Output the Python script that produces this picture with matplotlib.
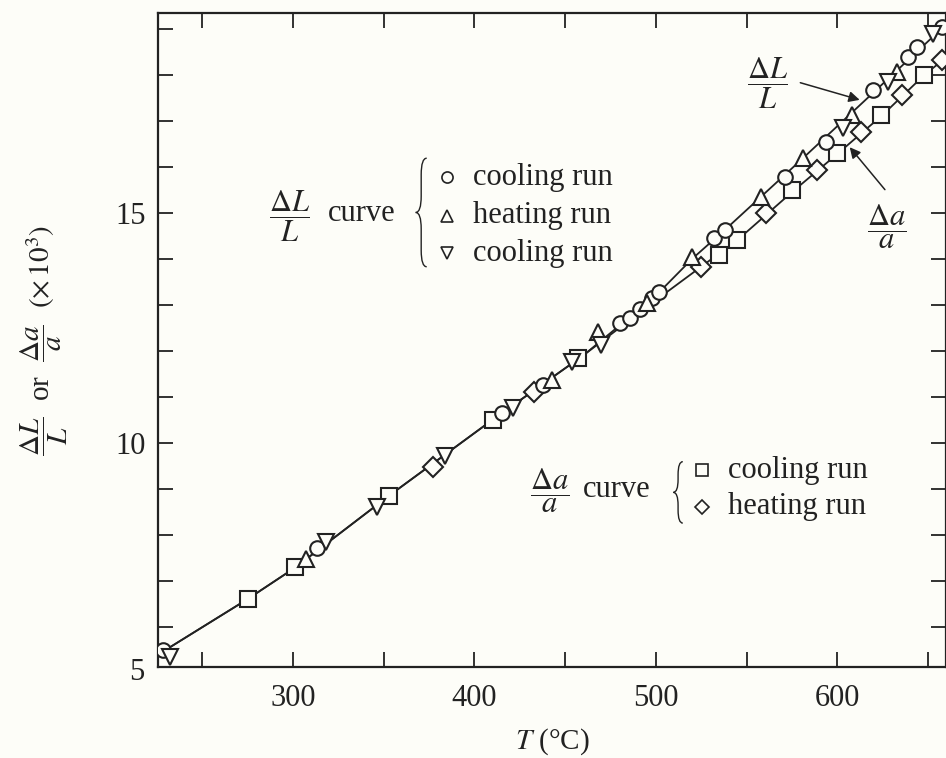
import matplotlib
matplotlib.use("Agg")
import matplotlib.pyplot as plt
from matplotlib.path import Path
from matplotlib.patches import PathPatch

plt.rcParams['font.family'] = ['Liberation Serif', 'DejaVu Serif']
plt.rcParams['mathtext.fontset'] = 'stix'

# dL/L curve, three runs (T in degC, value x 1e3)
dl_cool1_T = [228, 313, 415, 438, 480, 486, 491, 498, 502, 532, 538, 571, 594, 620, 639, 644, 658]
dl_cool1_v = [5.50, 7.70, 10.65, 11.26, 12.60, 12.72, 12.90, 13.15, 13.28, 14.46, 14.63, 15.78, 16.54, 17.67, 18.39, 18.60, 19.04]
dl_heat_T = [307, 443, 468, 495, 520, 558, 581, 608, 633]
dl_heat_v = [7.46, 11.37, 12.41, 13.04, 14.04, 15.35, 16.20, 17.13, 18.07]
dl_cool2_T = [232, 318, 346, 384, 421, 454, 470, 603, 628, 653]
dl_cool2_v = [5.33, 7.83, 8.61, 9.72, 10.76, 11.76, 12.13, 16.85, 17.85, 18.90]

# da/a curve, two runs
da_cool_T = [275, 301, 353, 410, 457, 535, 545, 575, 600, 624, 648]
da_cool_v = [6.61, 7.30, 8.85, 10.50, 11.85, 14.09, 14.41, 15.50, 16.30, 17.13, 18.00]
da_heat_T = [377, 433, 525, 561, 589, 613, 636, 658]
da_heat_v = [9.48, 11.10, 13.83, 15.00, 15.93, 16.76, 17.56, 18.33]

# smooth lines drawn through each curve
dl_line_T = [228, 275, 301, 353, 410, 460, 500, 520, 540, 580, 620, 660]
dl_line_v = [5.45, 6.60, 7.28, 8.85, 10.50, 11.90, 13.20, 14.00, 14.70, 16.15, 17.62, 19.10]
da_line_T = [228, 275, 301, 353, 410, 460, 500, 525, 545, 575, 600, 625, 648, 660]
da_line_v = [5.45, 6.60, 7.28, 8.85, 10.50, 11.90, 13.10, 13.83, 14.41, 15.45, 16.28, 17.13, 18.00, 18.38]

bg = '#fdfdf8'
ink = '#222222'


def brace(ax, x, y0, y1, w, d):
    # curly brace opening to the right, in axes coords
    ym = (y0 + y1) / 2
    xm = x + w / 2
    verts = [(x + w, y1), (xm, y1), (xm, y1 - d),
             (xm, ym + d), (xm, ym), (x, ym),
             (xm, ym), (xm, ym - d),
             (xm, y0 + d), (xm, y0), (x + w, y0)]
    codes = [Path.MOVETO, Path.CURVE3, Path.CURVE3,
             Path.LINETO, Path.CURVE3, Path.CURVE3,
             Path.CURVE3, Path.CURVE3,
             Path.LINETO, Path.CURVE3, Path.CURVE3]
    ax.add_patch(PathPatch(Path(verts, codes), fill=False, lw=1.0,
                           edgecolor=ink, transform=ax.transAxes, clip_on=False))


fig = plt.figure(figsize=(9.46, 7.58), dpi=100, facecolor=bg)
ax = fig.add_axes([158 / 946, 91 / 758, 788 / 946, 654 / 758])
ax.set_facecolor(bg)

ax.plot(da_line_T, da_line_v, color=ink, lw=1.3, zorder=2)
ax.plot(dl_line_T, dl_line_v, color=ink, lw=1.3, zorder=2)

mk = dict(linestyle='none', markerfacecolor=bg, markeredgecolor=ink, markeredgewidth=1.5, zorder=3)
ax.plot(da_cool_T, da_cool_v, marker='s', markersize=11, **mk)
ax.plot(da_heat_T, da_heat_v, marker='D', markersize=10, **mk)
ax.plot(dl_cool1_T, dl_cool1_v, marker='o', markersize=10.5, **mk)
ax.plot(dl_heat_T, dl_heat_v, marker='^', markersize=11, **mk)
ax.plot(dl_cool2_T, dl_cool2_v, marker='v', markersize=11, **mk)

ax.set_xlim(225.5, 660)
ax.set_ylim(5.12, 19.35)
ax.set_xticks([300, 400, 500, 600])
ax.set_xticks([250, 350, 450, 550, 650], minor=True)
ax.set_yticks([10, 15])
ax.set_yticks([6, 7, 8, 9, 11, 12, 13, 14, 16, 17, 18, 19], minor=True)
ax.tick_params(which='both', direction='in', length=11, width=1.3, top=True, right=True,
               color=ink, labelcolor=ink, labelsize=22)
ax.tick_params(axis='x', pad=12)
ax.tick_params(axis='y', pad=9)
ax.text(-0.017, 5, '5', transform=ax.get_yaxis_transform(), ha='right', va='center',
        fontsize=22, color=ink)
for s in ax.spines.values():
    s.set_linewidth(1.6)
    s.set_color(ink)

ax.set_xlabel(r'$T$ (°C)', fontsize=21, color=ink)
ax.xaxis.set_label_coords(0.5, -0.09)
ax.set_ylabel(r'$\dfrac{\Delta L}{L}$  or  $\dfrac{\Delta a}{a}$  $(\times\,10^3)$', fontsize=21, color=ink)
ax.yaxis.set_label_coords(-0.112, 0.5)

# legend for dL/L curve
fs = 22
ax.text(0.1675, 0.690, r'$\dfrac{\Delta L}{L}$', transform=ax.transAxes, ha='center', va='center', fontsize=fs, color=ink)
ax.text(0.216, 0.693, 'curve', transform=ax.transAxes, ha='left', va='center', fontsize=fs, color=ink)
brace(ax, 0.327, 0.612, 0.778, 0.014, 0.025)
lm = dict(linestyle='none', markerfacecolor=bg, markeredgecolor=ink, markeredgewidth=1.2,
          transform=ax.transAxes, clip_on=False)
rows1 = [('o', 'cooling run', 0.749), ('^', 'heating run', 0.690), ('v', 'cooling run', 0.633)]
for m, lab, yy in rows1:
    ax.plot([0.367], [yy], marker=m, markersize=8, **lm)
    ax.text(0.400, yy, lab, transform=ax.transAxes, ha='left', va='center', fontsize=fs, color=ink)

# legend for da/a curve
ax.text(0.497, 0.269, r'$\dfrac{\Delta a}{a}$', transform=ax.transAxes, ha='center', va='center', fontsize=fs, color=ink)
ax.text(0.539, 0.272, 'curve', transform=ax.transAxes, ha='left', va='center', fontsize=fs, color=ink)
brace(ax, 0.654, 0.220, 0.314, 0.012, 0.02)
rows2 = [('s', 'cooling run', 0.301), ('D', 'heating run', 0.245)]
for m, lab, yy in rows2:
    ax.plot([0.690], [yy], marker=m, markersize=8 if m == 's' else 7, **lm)
    ax.text(0.723, yy, lab, transform=ax.transAxes, ha='left', va='center', fontsize=fs, color=ink)

# pointers to the two curves
arr = dict(arrowstyle='-|>', lw=1.1, color=ink, mutation_scale=16, shrinkA=2, shrinkB=0)
ax.text(561.7, 17.83, r'$\dfrac{\Delta L}{L}$', ha='center', va='center', fontsize=fs, color=ink)
ax.annotate('', xy=(612.4, 17.46), xytext=(578.2, 17.85), arrowprops=arr)
ax.text(627.3, 14.70, r'$\dfrac{\Delta a}{a}$', ha='center', va='center', fontsize=fs, color=ink)
ax.annotate('', xy=(606.9, 16.43), xytext=(627.3, 15.46), arrowprops=arr)

fig.savefig('out.png', dpi=100, facecolor=bg)
